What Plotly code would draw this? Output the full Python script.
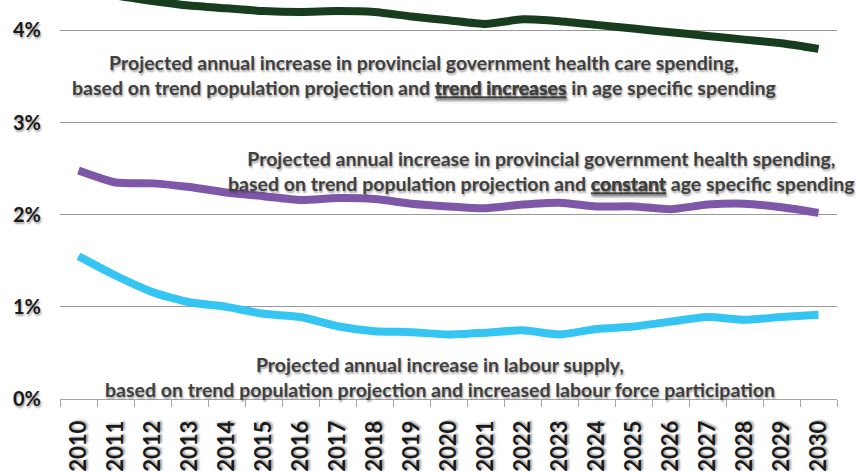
import plotly.graph_objects as go

years = [str(y) for y in range(2010, 2031)]

# Annual growth rates, percent
health_trend_increase = [4.47, 4.38, 4.32, 4.27, 4.24, 4.21, 4.20, 4.21, 4.20, 4.15,
                         4.11, 4.07, 4.12, 4.10, 4.06, 4.02, 3.98, 3.94, 3.90, 3.86, 3.80]
health_constant = [2.48, 2.35, 2.34, 2.30, 2.24, 2.20, 2.16, 2.18, 2.17, 2.12,
                   2.09, 2.07, 2.11, 2.13, 2.09, 2.09, 2.06, 2.11, 2.12, 2.08, 2.02]
labour_supply = [1.55, 1.34, 1.16, 1.05, 1.00, 0.925, 0.89, 0.79, 0.736, 0.725,
                 0.70, 0.72, 0.745, 0.70, 0.76, 0.787, 0.84, 0.89, 0.86, 0.89, 0.915]

y_ticks = [0, 1, 2, 3, 4]
y_tick_labels = [f"{v}%" for v in y_ticks]

label_font = "Lato"
shadow = "1px 2px 2px rgba(0,0,0,0.35)"

fig = go.Figure()

series = [
    (health_trend_increase, "#183d1e"),
    (health_constant, "#7e57a8"),
    (labour_supply, "#35c5f2"),
]
for values, color in series:
    fig.add_trace(go.Scatter(
        x=years, y=values, mode="lines",
        line=dict(color=color, width=8, shape="spline", smoothing=0.6),
        hoverinfo="skip", showlegend=False,
    ))

# Two-line captions, positioned by category index and percent value
notes = [
    (9.34, 3.52, "Projected annual increase in provincial government health care spending,<br>"
     "based on trend population projection and <u>trend increases</u> in age specific spending"),
    (12.5, 2.476, "Projected annual increase in provincial government health spending,<br>"
     "based on trend population projection and <u>constant</u> age specific spending"),
    (9.77, 0.24, "Projected annual increase in labour supply,<br>"
     "based on trend population projection and increased labour force participation"),
]
for xc, yc, text in notes:
    fig.add_annotation(
        x=xc, y=yc, xref="x", yref="y", text=text, showarrow=False,
        align="center", xanchor="center", yanchor="middle",
        font=dict(family=label_font, size=19.5, color="#404040", weight="bold", shadow=shadow),
    )

fig.update_layout(
    width=858, height=475,
    margin=dict(l=60, r=21, t=0, b=76),
    paper_bgcolor="white", plot_bgcolor="white",
    xaxis=dict(
        type="category", tickangle=-90, range=[-0.5, 20.5],
        showline=True, linecolor="#a6a6a6", linewidth=1,
        ticks="outside", tickson="boundaries", ticklen=7, tickcolor="#a6a6a6",
        ticklabelstandoff=12,
        showgrid=False,
        tickfont=dict(family=label_font, size=22, color="#1a1a1a", weight="bold", shadow=shadow),
    ),
    yaxis=dict(
        range=[0, 4.33], tickvals=y_ticks, ticktext=y_tick_labels,
        showgrid=True, gridcolor="#9a9a9a", gridwidth=1,
        zeroline=False, showline=False, ticks="",
        ticklabelstandoff=18,
        tickfont=dict(family=label_font, size=20, color="#1a1a1a", weight="bold", shadow=shadow),
    ),
)

fig.write_html("out.html")
